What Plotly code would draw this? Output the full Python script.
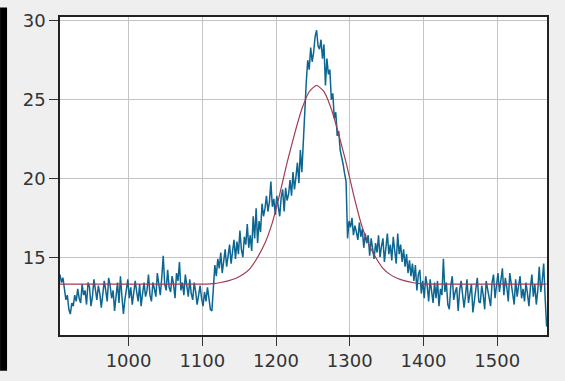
import plotly.graph_objects as go

# Measured spectrum (x every 2 units from 907 to 1567)
wavenumber = list(range(907, 1568, 2))
intensity = [
    13.9, 13.4, 13.7, 12.8, 12.3, 12.6, 11.7, 11.4, 12.1, 11.9, 12.6, 12.2, 13.0, 12.4, 12.1,
    13.3, 12.6, 12.9, 12.0, 13.4, 13.1, 11.9, 12.5, 13.6, 12.8, 12.3, 13.2, 12.7, 11.8, 12.6,
    13.5, 12.9, 12.2, 13.7, 13.2, 12.4, 12.9, 11.6, 12.7, 13.4, 12.1, 13.8, 12.5, 11.4, 12.3,
    12.9, 13.6, 12.4, 13.1, 12.0, 12.6, 13.5, 12.8, 12.2, 13.3, 11.9, 12.7, 13.4, 12.5, 12.9,
    13.9, 12.6, 12.2, 13.4, 13.0, 12.5, 14.0, 13.2, 12.6, 13.7, 15.1, 13.3, 12.9, 14.2, 13.1,
    12.8, 13.8, 13.3, 12.4, 14.0, 13.5, 14.7, 12.9, 13.4, 12.6, 13.9, 13.1, 12.5, 13.6, 12.7,
    12.3, 13.4, 12.8, 12.0, 12.6, 13.2, 12.4, 11.9, 12.8, 12.2, 13.1, 12.5, 11.7, 11.6, 12.9,
    14.5, 13.8, 14.9, 14.3, 15.3, 14.0, 14.6, 15.5, 14.4, 15.1, 15.8, 14.6, 15.2, 16.1, 14.9,
    16.0, 15.2, 16.7, 15.5, 15.0, 16.3, 15.8, 17.1, 15.6, 16.4, 15.4, 17.6, 16.2, 18.1, 15.9,
    17.3, 16.6, 18.4, 17.6, 18.1, 18.9, 17.9, 18.5, 19.8, 18.2, 18.7, 17.7, 18.9, 18.1, 17.6,
    18.8, 19.3, 17.9, 19.4, 18.6, 19.0, 19.9, 18.9, 20.4, 19.3, 20.1, 21.0, 19.7, 21.8, 20.4,
    22.6, 24.8, 26.1, 27.5, 26.9, 28.3, 27.4, 28.0, 29.0, 29.4, 28.4, 28.2, 28.8, 27.6, 28.5,
    25.9, 27.6, 26.6, 26.9, 25.0, 25.4, 23.8, 24.2, 22.7, 23.0, 21.8, 21.4, 20.9, 20.3, 19.8,
    16.2, 17.3, 16.9, 17.5, 16.4, 17.0, 16.6, 16.1, 17.2, 16.3, 16.8, 15.6, 16.5, 15.9, 16.4,
    15.1, 16.2, 15.4, 14.9, 15.9, 15.3, 16.4, 15.0, 15.7, 16.2, 14.7, 15.6, 16.5, 15.2, 15.8,
    14.8, 16.3, 15.4, 14.6, 16.5, 15.2, 15.8, 14.7, 15.5, 14.4, 15.2, 14.0, 14.8, 13.8, 14.6,
    13.5, 14.5, 12.9, 13.9, 14.2, 12.7, 13.5, 12.4, 13.8, 13.2, 12.2, 13.6, 12.8, 12.1, 13.4,
    12.4, 13.5, 11.9, 13.0, 12.6, 14.9, 12.8, 13.4, 12.0, 11.7, 13.2, 13.8, 12.3, 12.8, 13.1,
    11.6, 12.9, 13.5, 12.4, 11.8, 12.6, 13.6, 12.1, 12.7, 13.3, 11.5, 12.4, 13.0, 13.7, 12.2,
    12.1, 13.2, 12.6, 11.7, 13.5, 12.9, 12.2, 11.9, 13.4, 13.9, 12.4, 13.1, 14.0, 12.8, 13.5,
    14.3, 12.6, 13.7, 13.1, 12.2, 14.0, 13.3, 12.9, 12.0, 13.6, 12.5, 13.2, 13.8, 12.4, 13.0,
    12.2, 13.4, 12.7, 11.9, 13.1, 13.9, 12.5, 13.3, 12.0, 12.9, 14.4, 12.8, 13.5, 14.6, 12.4,
    10.6,
]

# Fitted peak curve
fit_x = [907, 1000, 1095, 1105, 1115, 1125, 1135, 1145, 1155, 1165, 1175,
         1185, 1195, 1205, 1215, 1225, 1235, 1245, 1255, 1265, 1275,
         1285, 1295, 1305, 1315, 1325, 1335, 1345, 1355, 1365, 1375,
         1385, 1395, 1405, 1415, 1500, 1567]
fit_y = [13.3, 13.3, 13.3, 13.3, 13.33, 13.4, 13.5, 13.65, 13.9, 14.3, 15.0,
         15.9, 17.2, 19.0, 21.0, 22.8, 24.4, 25.5, 25.9, 25.5, 24.4,
         22.8, 21.0, 19.0, 17.2, 15.9, 15.0, 14.3, 13.9, 13.65, 13.5,
         13.4, 13.33, 13.3, 13.3, 13.3, 13.3]

x_ticks = [1000, 1100, 1200, 1300, 1400, 1500]
y_ticks = [15, 20, 25, 30]

fig = go.Figure()
fig.add_trace(go.Scatter(x=wavenumber, y=intensity, mode="lines",
                         line=dict(color="#0d6591", width=1.5),
                         showlegend=False, hoverinfo="skip"))
fig.add_trace(go.Scatter(x=fit_x, y=fit_y, mode="lines",
                         line=dict(color="#a23a52", width=1.2, shape="spline", smoothing=0.6),
                         showlegend=False, hoverinfo="skip"))

axis_common = dict(showgrid=True, gridcolor="#c4c4c4", gridwidth=1,
                   showline=True, linecolor="#222222", linewidth=1.5, mirror=True,
                   ticks="outside", ticklen=9, tickwidth=1.3, tickcolor="#333333",
                   zeroline=False,
                   tickfont=dict(family="DejaVu Sans", size=18, color="#333333"))

fig.update_xaxes(range=[907, 1567.5], tickvals=x_ticks, **axis_common)
fig.update_yaxes(range=[10.07, 30.24], tickvals=y_ticks, **axis_common)

fig.add_shape(type="rect", xref="paper", yref="paper",
              x0=-60 / 487.5, x1=-53 / 487.5, y0=-37.5 / 333.5, y1=1 + 10 / 333.5,
              fillcolor="#000000", line=dict(width=0), layer="below")

fig.update_layout(width=565, height=381,
                  margin=dict(l=60, r=17.5, t=10, b=37.5),
                  paper_bgcolor="#efefef", plot_bgcolor="#ffffff")

fig.write_html("out.html")
